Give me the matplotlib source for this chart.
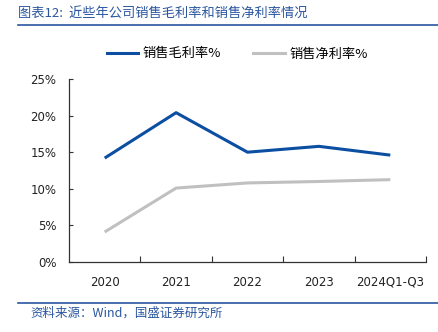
import matplotlib.pyplot as plt
from matplotlib.ticker import FuncFormatter
from matplotlib.lines import Line2D

plt.rcParams['font.family'] = ['DejaVu Sans', 'Noto Sans CJK SC']

categories = ['2020', '2021', '2022', '2023', '2024Q1-Q3']
gross_margin = [14.2, 20.4, 15.0, 15.8, 14.6]
net_margin = [4.1, 10.1, 10.8, 11.0, 11.25]
series_names = ['销售毛利率%', '销售净利率%']

blue = '#0b4ea2'
gray = '#c0c0c0'
cjk = ['Noto Sans CJK SC', 'DejaVu Sans']

fig = plt.figure(figsize=(4.38, 3.32), dpi=100)
ax = fig.add_axes([69 / 438, 1 - 262 / 332, 357 / 438, 183 / 332])

x = range(len(categories))
ax.plot(x, gross_margin, color=blue, lw=2.2, solid_capstyle='butt')
ax.plot(x, net_margin, color=gray, lw=2.2, solid_capstyle='butt')

ax.set_xlim(-0.5, len(categories) - 0.5)
ax.set_ylim(0, 25)
ax.set_yticks([0, 5, 10, 15, 20, 25])
ax.yaxis.set_major_formatter(FuncFormatter(lambda v, p: f'{v:.0f}%'))
ax.set_xticks([i + 0.5 for i in range(len(categories))])
ax.set_xticklabels([])
ax.set_xticks(list(x), minor=True)
ax.set_xticklabels(categories, minor=True)
ax.tick_params(axis='x', which='major', direction='in', length=4, color='#333333')
ax.tick_params(axis='x', which='minor', length=0, pad=10, labelsize=8.5, labelcolor='#222222')
ax.tick_params(axis='y', direction='in', length=3, pad=9, labelsize=8.5, labelcolor='#222222', color='#333333')
for s in ['top', 'right']:
    ax.spines[s].set_visible(False)
for s in ['left', 'bottom']:
    ax.spines[s].set_color('#333333')
    ax.spines[s].set_linewidth(0.9)

handles = [Line2D([], [], color=blue, lw=2.2), Line2D([], [], color=gray, lw=2.2)]
fig.legend(handles, series_names, loc='center', bbox_to_anchor=(237 / 438, 1 - 54 / 332), ncol=2,
           frameon=False, handlelength=2.4, handletextpad=0.35, columnspacing=2.4,
           prop={'family': cjk, 'size': 9.5})

# header and footer
fig.text(18 / 438, 1 - 13 / 332, '图表12:  近些年公司销售毛利率和销售净利率情况', color='#2a56a0',
         fontsize=9.5, style='italic', family=cjk, va='center')
fig.add_artist(Line2D([18 / 438, 1], [1 - 25 / 332] * 2, color='#2a56a0', lw=1.2))
fig.add_artist(Line2D([18 / 438, 1], [1 - 303 / 332] * 2, color='#2a56a0', lw=1.2))
fig.text(30 / 438, 1 - 313 / 332, '资料来源：Wind，国盛证券研究所', color='#2a56a0',
         fontsize=9, style='italic', family=cjk, va='center')

fig.savefig('out.png', dpi=100)
